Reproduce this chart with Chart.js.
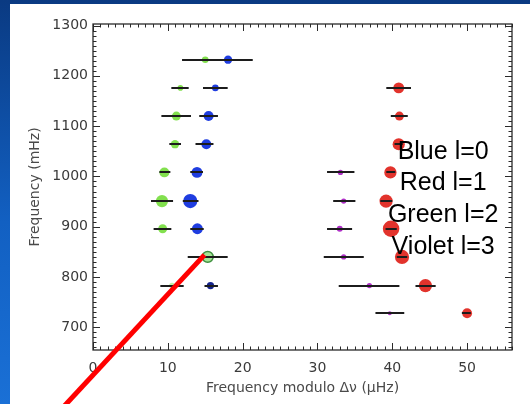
<!DOCTYPE html>
<html>
<head>
<meta charset="utf-8">
<script src="https://cdn.jsdelivr.net/npm/chart.js@4.4.1/dist/chart.umd.min.js"></script>
<style>
  html, body { margin: 0; width: 530px; height: 404px; overflow: hidden; }
  body { position: relative; background: linear-gradient(180deg, #0a3a82 0%, #1260c2 55%, #1a70d6 100%); }
  #sheet { position: absolute; left: 10px; top: 4px; right: 0; bottom: 0; background: #fff; }
  #wrap { position: absolute; left: 0; top: 0; width: 530px; height: 404px; }
</style>
</head>
<body>
<div id="sheet"></div>
<div id="wrap"><canvas id="echelle" width="530" height="404"></canvas></div>
<script>
// Echelle diagram: mode frequency against frequency modulo the large separation.
// Each mode has a horizontal error bar; marker size follows mode amplitude.

const X_TICKS = [0, 10, 20, 30, 40, 50];
const Y_TICKS = [700, 800, 900, 1000, 1100, 1200, 1300];

// l=0 (blue)
const l0Freq = [1232, 1176, 1120, 1064, 1008, 951, 896, 783];
const l0Mod  = [18.05, 16.35, 15.45, 15.15, 13.9, 13.0, 13.95, 15.7];
const l0Lo   = [15.0, 14.7, 14.2, 13.7, 13.0, 12.0, 13.0, 14.9];
const l0Hi   = [21.35, 18.0, 16.7, 16.1, 14.7, 14.1, 14.8, 16.7];
const l0Amp  = [2.5, 2.0, 3.0, 3.0, 3.3, 4.3, 3.3, 2.2];

// l=1 (red)
const l1Freq = [1176, 1120, 1064, 1008, 951, 896, 840, 783, 728];
const l1Mod  = [40.86, 40.95, 40.86, 39.75, 39.17, 39.84, 41.3, 44.43, 50.0];
const l1Lo   = [39.2, 39.8, 40.3, 39.2, 38.4, 39.1, 40.6, 43.1, 49.3];
const l1Hi   = [42.5, 42.07, 41.4, 40.4, 40.0, 40.6, 42.0, 45.8, 50.5];
const l1Amp  = [3.3, 2.7, 3.7, 3.7, 4.0, 5.0, 4.3, 4.0, 3.0];

// l=2 (green)
const l2Freq = [1232, 1176, 1120, 1064, 1008, 951, 896, 840, 783];
const l2Mod  = [15.0, 11.68, 11.14, 10.96, 9.54, 9.22, 9.31, 15.33, 10.56];
const l2Lo   = [11.9, 10.47, 9.14, 10.2, 8.87, 7.75, 8.1, 12.66, 9.0];
const l2Hi   = [18.0, 12.79, 13.1, 11.76, 10.34, 10.7, 10.47, 18.0, 12.12];
const l2Amp  = [2.0, 1.7, 2.7, 2.5, 3.0, 3.7, 2.7, 3.3, 1.7];

// l=3 (violet)
const l3Freq = [1008, 951, 896, 840, 783, 728];
const l3Mod  = [33.07, 33.5, 32.98, 33.5, 36.94, 39.66];
const l3Lo   = [31.28, 32.1, 31.28, 30.84, 32.84, 37.75];
const l3Hi   = [34.94, 35.07, 34.63, 36.19, 40.95, 41.6];
const l3Amp  = [1.6, 1.6, 1.8, 1.6, 1.6, 1.2];

const NOTES = ["Blue l=0", "Red l=1", "Green l=2", "Violet l=3"];

const PX_PER_AMP = 1.65;

const points = (mod, freq, lo, hi) => mod.map((x, i) => ({ x, y: freq[i], lo: lo[i], hi: hi[i] }));

function series(mod, freq, lo, hi, amp, fill, edge, edgeW) {
  return {
    data: points(mod, freq, lo, hi),
    pointRadius: amp.map((a) => a * PX_PER_AMP),
    pointHoverRadius: amp.map((a) => a * PX_PER_AMP),
    pointBackgroundColor: fill,
    pointBorderColor: edge || fill,
    pointBorderWidth: edgeW || 0,
    showLine: false,
  };
}

const blue = "#1f3de0", red = "#e2332c", green = "#82e04e", violet = "#b030c8";

// box with inward major/minor ticks on all four sides
const frame = {
  id: "frame",
  beforeDatasetsDraw(chart) {
    const { ctx, chartArea: a, scales: { x, y } } = chart;
    ctx.save();
    ctx.strokeStyle = "#2a2a2a";
    ctx.lineWidth = 1.3;
    ctx.strokeRect(a.left, a.top, a.right - a.left, a.bottom - a.top);
    ctx.lineWidth = 1;
    ctx.beginPath();
    for (let v = Math.ceil(x.min); v <= x.max; v++) {
      const px = Math.round(x.getPixelForValue(v)) + 0.5;
      const len = v % 10 === 0 ? 7 : 3.5;
      ctx.moveTo(px, a.bottom); ctx.lineTo(px, a.bottom - len);
      ctx.moveTo(px, a.top); ctx.lineTo(px, a.top + len);
    }
    for (let v = Math.ceil(y.min / 10) * 10; v <= y.max; v += 10) {
      const py = Math.round(y.getPixelForValue(v)) + 0.5;
      const len = v % 100 === 0 ? 7 : 3.5;
      ctx.moveTo(a.left, py); ctx.lineTo(a.left + len, py);
      ctx.moveTo(a.right, py); ctx.lineTo(a.right - len, py);
    }
    ctx.stroke();
    ctx.restore();
  },
};

const errorBars = {
  id: "errorBars",
  afterDatasetsDraw(chart) {
    const { ctx, scales: { x, y } } = chart;
    ctx.save();
    ctx.strokeStyle = "#1c1c1c";
    ctx.lineWidth = 2;
    chart.data.datasets.forEach((ds) => ds.data.forEach((p) => {
      const py = Math.round(y.getPixelForValue(p.y));
      ctx.beginPath();
      ctx.moveTo(x.getPixelForValue(p.lo), py);
      ctx.lineTo(x.getPixelForValue(p.hi), py);
      ctx.stroke();
    }));
    ctx.restore();
  },
};

// degree key and the red pointer line
const notes = {
  id: "notes",
  afterDraw(chart) {
    const { ctx, scales: { x, y } } = chart;
    ctx.save();
    ctx.fillStyle = "#000";
    ctx.font = '25px "Liberation Sans", Arial, sans-serif';
    ctx.textAlign = "center";
    ctx.textBaseline = "middle";
    const cx = x.getPixelForValue(46.8);
    const top = y.getPixelForValue(1049);
    NOTES.forEach((t, i) => ctx.fillText(t, cx, top + i * 31.8));

    ctx.strokeStyle = "#ff0000";
    ctx.lineWidth = 5;
    ctx.beginPath();
    ctx.moveTo(x.getPixelForValue(-5), y.getPixelForValue(525));
    ctx.lineTo(x.getPixelForValue(14.9), y.getPixelForValue(844));
    ctx.stroke();
    ctx.restore();
  },
};

Chart.defaults.font.family = '"DejaVu Sans", sans-serif';

const plain = (v) => String(v);

new Chart(document.getElementById("echelle"), {
  type: "scatter",
  data: {
    datasets: [
      series(l0Mod, l0Freq, l0Lo, l0Hi, l0Amp, l0Mod.map((_, i) => (i === l0Mod.length - 1 ? "#14238c" : blue))),
      series(l2Mod, l2Freq, l2Lo, l2Hi, l2Amp,
        l2Mod.map((_, i) => (i === 7 ? "#a6e596" : i === 8 ? "#bff0a8" : green)),
        l2Mod.map((_, i) => (i === 7 ? "#3f8f3f" : "rgba(0,0,0,0)")),
        l2Mod.map((_, i) => (i === 7 ? 1.5 : 0))),
      series(l1Mod, l1Freq, l1Lo, l1Hi, l1Amp, red),
      series(l3Mod, l3Freq, l3Lo, l3Hi, l3Amp, violet),
    ],
  },
  options: {
    responsive: false,
    animation: false,
    events: [],
    layout: { padding: { left: 0, right: 18, top: 24, bottom: 0 } },
    plugins: { legend: { display: false }, tooltip: { enabled: false } },
    scales: {
      x: {
        type: "linear", min: 0, max: 56,
        afterBuildTicks: (s) => { s.ticks = X_TICKS.map((value) => ({ value })); },
        afterFit: (s) => { s.height = 54; },
        grid: { display: false, drawTicks: false },
        border: { display: false },
        ticks: { padding: 10, color: "#3a3a3a", font: { size: 14 }, maxRotation: 0, callback: plain },
        title: { display: true, text: "Frequency modulo \u0394\u03bd (\u03bcHz)", color: "#4a4a4a", font: { size: 14 }, padding: { top: 0, bottom: 7.6 } },
      },
      y: {
        type: "linear", min: 655, max: 1303,
        afterBuildTicks: (s) => { s.ticks = Y_TICKS.map((value) => ({ value })); },
        afterFit: (s) => { s.width = 93; },
        grid: { display: false, drawTicks: false },
        border: { display: false },
        ticks: { padding: 5, color: "#3a3a3a", font: { size: 14 }, callback: plain },
        title: { display: true, text: "Frequency (mHz)", color: "#4a4a4a", font: { size: 14 }, padding: { top: 26.6, bottom: 0 } },
      },
    },
  },
  plugins: [frame, errorBars, notes],
});
</script>
</body>
</html>
